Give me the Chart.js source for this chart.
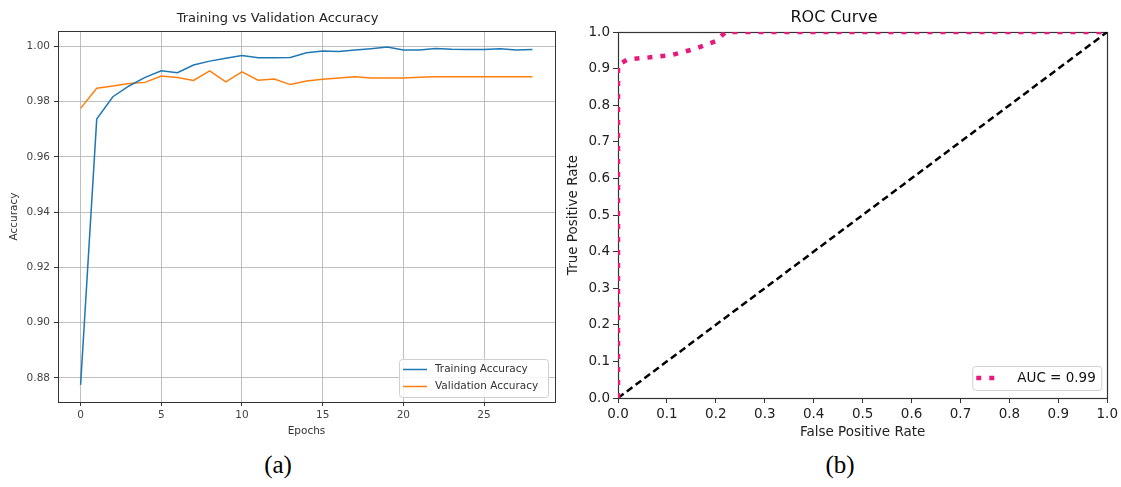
<!DOCTYPE html>
<html><head><meta charset="utf-8">
<script src="https://cdn.jsdelivr.net/npm/chart.js@4/dist/chart.umd.min.js"></script>
<style>
html,body{margin:0;padding:0;background:#fff;width:1121px;height:487px;overflow:hidden;}
#a{position:absolute;left:0;top:0;width:565px;height:445px;}
#b{position:absolute;left:560px;top:0;width:561px;height:445px;}
.cap{position:absolute;font-family:"Liberation Serif","Times New Roman",serif;font-size:25px;color:#000;transform:translate(-50%,-50%);white-space:nowrap;}
</style></head><body>
<div id="a"><canvas id="c1"></canvas></div>
<div id="b"><canvas id="c2"></canvas></div>
<div class="cap" style="left:278px;top:465px">(a)</div>
<div class="cap" style="left:840px;top:465px">(b)</div>
<script>
// ---- data ----
const epochs = [0,1,2,3,4,5,6,7,8,9,10,11,12,13,14,15,16,17,18,19,20,21,22,23,24,25,26,27,28];
const trainAcc = [0.8775,0.9737,0.9818,0.9857,0.9888,0.9912,0.9905,0.9933,0.9947,0.9957,0.9967,0.9959,0.9959,0.9960,0.9977,0.9984,0.9982,0.9987,0.9992,0.9998,0.9987,0.9987,0.9993,0.9990,0.9989,0.9989,0.9992,0.9987,0.9989];
const valAcc = [0.9776,0.9849,0.9857,0.9866,0.9870,0.9893,0.9888,0.9877,0.9912,0.9872,0.9908,0.9878,0.9882,0.9862,0.9875,0.9881,0.9886,0.9890,0.9886,0.9886,0.9886,0.9889,0.9890,0.9890,0.9890,0.9890,0.9890,0.9890,0.9890];
const accXTicks = [0,5,10,15,20,25];
const accYTicks = [0.88,0.90,0.92,0.94,0.96,0.98,1.00];

const rocFpr = [0,0,0.02,0.06,0.11,0.16,0.20,0.22,1.0];
const rocTpr = [0,0.91,0.925,0.93,0.937,0.955,0.975,1.0,1.0];
const chanceFpr = [0,1];
const chanceTpr = [0,1];
const rocTicks = [0,0.1,0.2,0.3,0.4,0.5,0.6,0.7,0.8,0.9,1.0];

// ---- plugins ----
const framePlugin = {
  id:'frame',
  beforeDatasetsDraw(chart, args, o){
    const {ctx, chartArea:a} = chart;
    ctx.save();
    ctx.strokeStyle = o.color || '#333';
    ctx.lineWidth = o.width || 1;
    ctx.strokeRect(Math.round(a.left)+0.5, Math.round(a.top)+0.5, Math.round(a.right-a.left), Math.round(a.bottom-a.top));
    ctx.restore();
  }
};
const boxLegend = {
  id:'boxLegend',
  afterDraw(chart, args, o){
    if(!o || !o.w) return;
    const {ctx, chartArea:a} = chart;
    const items = chart.data.datasets.filter(d => d.label);
    const x = a.right - o.right - o.w, y = a.bottom - o.bottom - o.h;
    ctx.save();
    ctx.fillStyle = 'rgba(255,255,255,0.85)';
    ctx.strokeStyle = '#d0d0d0';
    ctx.lineWidth = 1;
    ctx.beginPath();
    if (ctx.roundRect) ctx.roundRect(x+0.5, y+0.5, o.w, o.h, 3); else ctx.rect(x+0.5,y+0.5,o.w,o.h);
    ctx.fill(); ctx.stroke();
    ctx.font = o.font;
    ctx.textBaseline = 'middle';
    items.forEach((d, i) => {
      const cy = y + o.padTop + o.rowH*i + o.rowH/2;
      ctx.strokeStyle = d.borderColor;
      ctx.lineWidth = d.borderWidth;
      ctx.setLineDash(d.borderDash || []);
      ctx.beginPath();
      ctx.moveTo(x + o.padLeft, cy);
      ctx.lineTo(x + o.padLeft + o.sample, cy);
      ctx.stroke();
      ctx.setLineDash([]);
      ctx.fillStyle = o.color;
      ctx.fillText(d.label, x + o.padLeft + o.sample + o.gap, cy);
    });
    ctx.restore();
  }
};
Chart.register(framePlugin, boxLegend);

// ---- chart (a) ----
const FONT = "'DejaVu Sans', sans-serif";
new Chart(document.getElementById('c1'), {
  type:'line',
  data:{
    datasets:[
      {label:'Training Accuracy', data: epochs.map((e,i)=>({x:e,y:trainAcc[i]})), borderColor:'#1f77b4', borderWidth:1.5, pointRadius:0, tension:0, fill:false},
      {label:'Validation Accuracy', data: epochs.map((e,i)=>({x:e,y:valAcc[i]})), borderColor:'#ff7f0e', borderWidth:1.5, pointRadius:0, tension:0, fill:false}
    ]
  },
  options:{
    responsive:true, maintainAspectRatio:false, animation:false, devicePixelRatio:1,
    layout:{padding:{left:0,right:10,top:0,bottom:0}},
    plugins:{
      legend:{display:false}, tooltip:{enabled:false},
      title:{display:true, text:'Training vs Validation Accuracy', color:'#222', font:{family:FONT,size:13,weight:'normal'}, padding:{top:11,bottom:4.4}},
      frame:{color:'#333', width:1},
      boxLegend:{right:7, bottom:5, w:149, h:38, padTop:2, rowH:17, padLeft:4, sample:24, gap:8, font:"10.5px 'DejaVu Sans', sans-serif", color:'#333'}
    },
    scales:{
      x:{type:'linear', min:-1.4, max:29.4,
        afterBuildTicks: s => { s.ticks = accXTicks.map(v=>({value:v})); },
        afterFit: s => { s.height = 43; },
        ticks:{color:'#444', font:{family:FONT,size:10.5}, padding:3, maxRotation:0, callback:v=>String(v)},
        grid:{color:'rgba(170,170,170,0.75)', lineWidth:1, tickLength:4, tickColor:'#333'},
        border:{display:true,color:'#333'},
        title:{display:true, text:'Epochs', color:'#333', font:{family:FONT,size:10.5}, padding:{top:0,bottom:7.7}}
      },
      y:{type:'linear', min:0.8713, max:1.0056,
        afterBuildTicks: s => { s.ticks = accYTicks.map(v=>({value:v})); },
        afterFit: s => { s.width = 58; },
        ticks:{color:'#444', font:{family:FONT,size:10.5}, padding:4, callback:v=>Number(v).toFixed(2)},
        grid:{color:'rgba(170,170,170,0.75)', lineWidth:1, tickLength:4, tickColor:'#333'},
        border:{display:true,color:'#333'},
        title:{display:true, text:'Accuracy', color:'#333', font:{family:FONT,size:10.5}, padding:{top:7.7,bottom:0}}
      }
    }
  }
});

// ---- chart (b) ----
new Chart(document.getElementById('c2'), {
  type:'scatter',
  data:{
    datasets:[
      {label:'AUC = 0.99', data: rocFpr.map((f,i)=>({x:f,y:rocTpr[i]})), showLine:true, borderColor:'#e8197d', borderWidth:4.5, borderDash:[5,8], pointRadius:0, tension:0, fill:false, clip:0},
      {label:'', data: chanceFpr.map((f,i)=>({x:f,y:chanceTpr[i]})), showLine:true, borderColor:'#000', borderWidth:2.5, borderDash:[7,4], pointRadius:0, tension:0, fill:false, clip:0}
    ]
  },
  options:{
    responsive:true, maintainAspectRatio:false, animation:false, devicePixelRatio:1,
    layout:{padding:{left:0,right:13,top:0,bottom:0}},
    plugins:{
      legend:{display:false}, tooltip:{enabled:false},
      title:{display:true, text:'ROC Curve', color:'#111', font:{family:FONT,size:16,weight:'normal'}, padding:{top:8,bottom:4.8}},
      frame:{color:'#333', width:1.2},
      boxLegend:{right:6, bottom:8, w:129, h:24, padTop:0, rowH:24, padLeft:4, sample:23, gap:18, font:"13.5px 'DejaVu Sans', sans-serif", color:'#111'}
    },
    scales:{
      x:{type:'linear', min:0, max:1,
        afterBuildTicks: s => { s.ticks = rocTicks.map(v=>({value:v})); },
        afterFit: s => { s.height = 47; },
        ticks:{color:'#222', font:{family:FONT,size:13.5}, padding:3, maxRotation:0, callback:v=>Number(v).toFixed(1)},
        grid:{display:true, drawOnChartArea:false, tickLength:5, tickColor:'#333'},
        border:{display:true,color:'#444'},
        title:{display:true, text:'False Positive Rate', color:'#222', font:{family:FONT,size:13.5}, padding:{top:0,bottom:4.9}}
      },
      y:{type:'linear', min:0, max:1,
        afterBuildTicks: s => { s.ticks = rocTicks.map(v=>({value:v})); },
        afterFit: s => { s.width = 58; },
        ticks:{color:'#222', font:{family:FONT,size:13.5}, padding:3, callback:v=>Number(v).toFixed(1)},
        grid:{display:true, drawOnChartArea:false, tickLength:5, tickColor:'#333'},
        border:{display:true,color:'#444'},
        title:{display:true, text:'True Positive Rate', color:'#222', font:{family:FONT,size:13.5}, padding:{top:5,bottom:0}}
      }
    }
  }
});
</script>
</body></html>
